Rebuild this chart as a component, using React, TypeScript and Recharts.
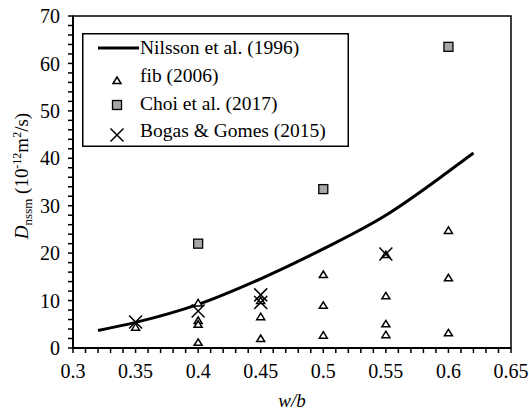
import React, { useEffect } from 'react';
import { ComposedChart, Line, Scatter, XAxis, YAxis, ReferenceArea, Legend } from 'recharts';

if (typeof document !== 'undefined') document.body.style.margin = '0';

// Nilsson et al. (1996) curve
const nilssonX = [0.32, 0.35, 0.4, 0.45, 0.5, 0.55, 0.6, 0.62];
const nilssonY = [3.7, 5.4, 9.2, 14.6, 20.9, 28.0, 37.2, 41.1];

// fib (2006)
const fibX = [0.35, 0.4, 0.4, 0.4, 0.4, 0.45, 0.45, 0.45, 0.5, 0.5, 0.5, 0.55, 0.55, 0.55, 0.55, 0.6, 0.6, 0.6];
const fibY = [4.4, 9.5, 5.8, 5.0, 1.2, 10.0, 6.6, 2.0, 15.5, 9.0, 2.7, 19.7, 11.0, 5.1, 2.8, 24.8, 14.8, 3.2];

// Choi et al. (2017)
const choiX = [0.4, 0.5, 0.6];
const choiY = [22.0, 33.5, 63.5];

// Bogas & Gomes (2015)
const bogasX = [0.35, 0.4, 0.45, 0.45, 0.55];
const bogasY = [5.5, 7.8, 11.2, 9.6, 19.8];

const xTicks = Array.from({ length: 36 }, (_, i) => +(0.3 + i * 0.01).toFixed(2));
const yTicks = Array.from({ length: 36 }, (_, i) => i * 2);

const nilssonData = nilssonX.map((x, i) => ({ x, y: nilssonY[i] }));
const fibData = fibX.map((x, i) => ({ x, y: fibY[i] }));
const choiData = choiX.map((x, i) => ({ x, y: choiY[i] }));
const bogasData = bogasX.map((x, i) => ({ x, y: bogasY[i] }));

const FONT = 'Liberation Serif';
const CSS = `#root svg text, #root svg tspan, #root .recharts-wrapper text, #root .recharts-wrapper tspan { font-family: "Liberation Serif", serif !important; }`;

const Tri = ({ cx, cy }: any) => (
  <path d={`M${cx},${cy - 3.5} L${cx + 4},${cy + 3} L${cx - 4},${cy + 3} Z`} fill="#fff" stroke="#000" strokeWidth={1.5} />
);
const Sq = ({ cx, cy }: any) => (
  <rect x={cx - 4.5} y={cy - 4.5} width={9} height={9} fill="#a6a6a6" stroke="#000" strokeWidth={1.3} />
);
const Cross = ({ cx, cy }: any) => (
  <path d={`M${cx - 6.5},${cy - 6.5} L${cx + 6.5},${cy + 6.5} M${cx + 6.5},${cy - 6.5} L${cx - 6.5},${cy + 6.5}`} stroke="#000" strokeWidth={1.5} fill="none" />
);

const xFmt = (v: number) => {
  const m = Math.abs(v * 20 - Math.round(v * 20)) < 1e-6;
  return m ? String(+v.toFixed(2)) : '';
};
const yFmt = (v: number) => (v % 10 === 0 ? String(v) : '');

const LegendBox = () => (
  <svg width={267} height={114} style={{ display: 'block' }}>
    <rect x={0.75} y={0.75} width={265.5} height={112.5} fill="#fff" stroke="#000" strokeWidth={1.5} />
    <line x1={16} y1={15} x2={57} y2={15} stroke="#000" strokeWidth={3} />
    <Tri cx={35} cy={47.5} />
    <Sq cx={35} cy={72} />
    <Cross cx={35} cy={102} />
    <text x={58} y={21} fontFamily={FONT} fontSize={19.5} fill="#000">Nilsson et al. (1996)</text>
    <text x={58} y={49} fontFamily={FONT} fontSize={19.5} fill="#000">fib (2006)</text>
    <text x={58} y={77} fontFamily={FONT} fontSize={19.5} fill="#000">Choi et al. (2017)</text>
    <text x={58} y={104} fontFamily={FONT} fontSize={19.5} fill="#000">Bogas &amp; Gomes (2015)</text>
  </svg>
);

const YLabel = () => (
  <text transform="translate(28,176) rotate(-90)" textAnchor="middle" fontFamily={FONT} fontSize={19} fill="#000">
    <tspan fontStyle="italic">D</tspan>
    <tspan fontSize={13} dy={4}>nssm</tspan>
    <tspan dy={-4}> (10</tspan>
    <tspan fontSize={12} dy={-7}>-12</tspan>
    <tspan dy={7}>m</tspan>
    <tspan fontSize={12} dy={-7}>2</tspan>
    <tspan dy={7}>/s)</tspan>
  </text>
);

const XLabel = () => (
  <text x={292} y={407} textAnchor="middle" fontFamily={FONT} fontSize={19} fontStyle="italic" fill="#000">w/b</text>
);

export default function App() {
  useEffect(() => {
    const apply = () => {
      document.querySelectorAll('#root text, #root tspan').forEach((el: any) => {
        el.style.setProperty('font-family', 'Liberation Serif', 'important');
      });
    };
    apply();
    const t1 = setTimeout(apply, 50);
    const t2 = setTimeout(apply, 300);
    return () => { clearTimeout(t1); clearTimeout(t2); };
  });
  return (
    <div style={{ width: 529, height: 412, background: '#fff', fontFamily: FONT }}>
      <style>{CSS}</style>
      <ComposedChart width={529} height={412} margin={{ top: 16, right: 18, bottom: 34, left: 0 }}>
        <XAxis
          type="number"
          dataKey="x"
          domain={[0.3, 0.65]}
          ticks={xTicks}
          tickFormatter={xFmt}
          interval={0}
          height={30}
          tickSize={5}
          tickMargin={11}
          axisLine={{ stroke: '#000', strokeWidth: 2 }}
          tickLine={{ stroke: '#000', strokeWidth: 1.5 }}
          tick={{ fill: '#000', fontSize: 20, fontFamily: FONT }}
          allowDataOverflow
          label={{ content: () => <XLabel /> }}
        />
        <YAxis
          type="number"
          dataKey="y"
          domain={[0, 70]}
          ticks={yTicks}
          tickFormatter={yFmt}
          interval={0}
          width={73}
          tickSize={5}
          tickMargin={8}
          axisLine={{ stroke: '#000', strokeWidth: 2 }}
          tickLine={{ stroke: '#000', strokeWidth: 1.5 }}
          tick={{ fill: '#000', fontSize: 20, fontFamily: FONT }}
          allowDataOverflow
          label={{ content: () => <YLabel /> }}
        />
        <ReferenceArea x1={0.3} x2={0.65} y1={0} y2={70} fill="none" stroke="#000" strokeWidth={1.5} ifOverflow="visible" />
        <Line data={nilssonData} dataKey="y" type="monotone" stroke="#000" strokeWidth={3} dot={false} activeDot={false} isAnimationActive={false} legendType="none" />
        <Scatter data={fibData} dataKey="y" shape={<Tri />} isAnimationActive={false} />
        <Scatter data={choiData} dataKey="y" shape={<Sq />} isAnimationActive={false} />
        <Scatter data={bogasData} dataKey="y" shape={<Cross />} isAnimationActive={false} />
        <Legend
          layout="vertical"
          align="center"
          verticalAlign="middle"
          wrapperStyle={{ top: 33, left: 82, width: 267, height: 114, right: 'auto', bottom: 'auto' }}
          content={() => <LegendBox />}
        />
      </ComposedChart>
    </div>
  );
}
